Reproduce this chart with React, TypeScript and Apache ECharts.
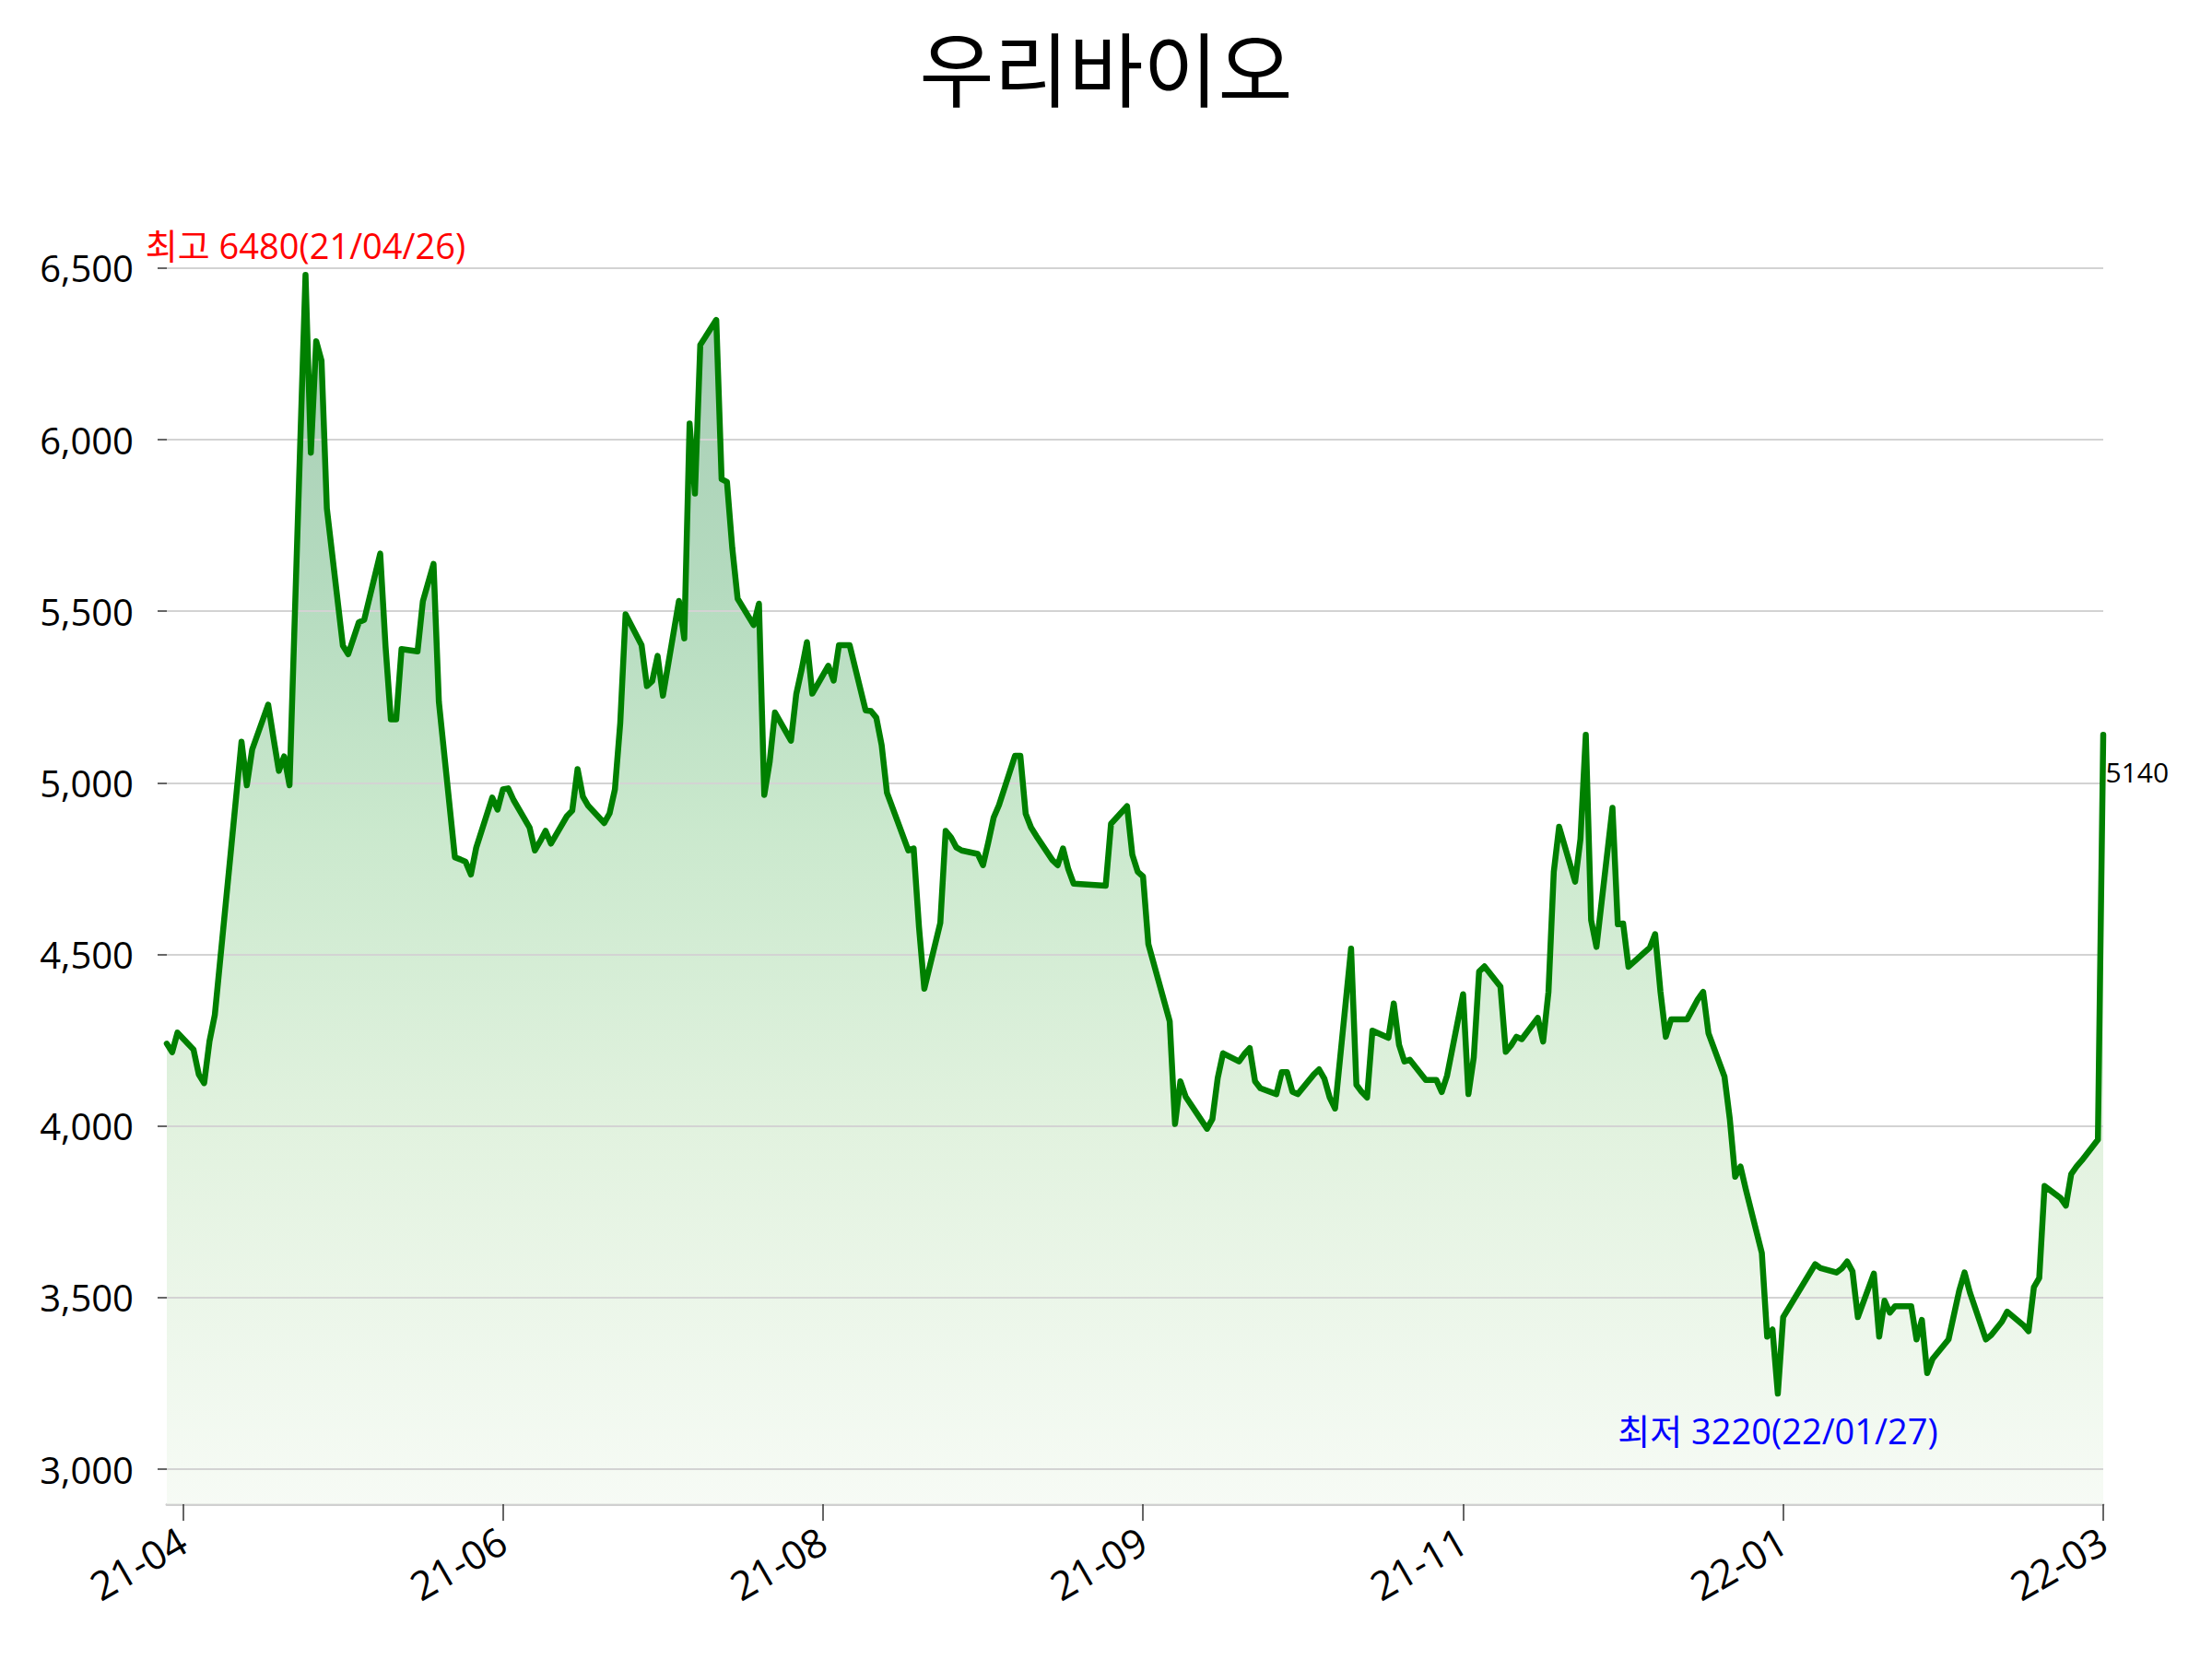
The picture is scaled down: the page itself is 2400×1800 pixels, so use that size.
import React, { useEffect, useRef } from 'react';
import * as echarts from 'echarts';

const TITLE = '우리바이오';

const dates: string[] = [
  '2021-03-31', '2021-04-01', '2021-04-02', '2021-04-05', '2021-04-06', '2021-04-07', '2021-04-08', '2021-04-09',
  '2021-04-12', '2021-04-13', '2021-04-14', '2021-04-15', '2021-04-16', '2021-04-19', '2021-04-20', '2021-04-21',
  '2021-04-22', '2021-04-23', '2021-04-26', '2021-04-27', '2021-04-28', '2021-04-29', '2021-04-30', '2021-05-03',
  '2021-05-04', '2021-05-06', '2021-05-07', '2021-05-10', '2021-05-11', '2021-05-12', '2021-05-13', '2021-05-14',
  '2021-05-17', '2021-05-18', '2021-05-20', '2021-05-21', '2021-05-24', '2021-05-25', '2021-05-26', '2021-05-27',
  '2021-05-28', '2021-05-31', '2021-06-01', '2021-06-02', '2021-06-03', '2021-06-04', '2021-06-07', '2021-06-08',
  '2021-06-09', '2021-06-10', '2021-06-11', '2021-06-14', '2021-06-15', '2021-06-16', '2021-06-17', '2021-06-18',
  '2021-06-21', '2021-06-22', '2021-06-23', '2021-06-24', '2021-06-25', '2021-06-28', '2021-06-29', '2021-06-30',
  '2021-07-01', '2021-07-02', '2021-07-05', '2021-07-06', '2021-07-07', '2021-07-08', '2021-07-09', '2021-07-12',
  '2021-07-13', '2021-07-14', '2021-07-15', '2021-07-16', '2021-07-19', '2021-07-20', '2021-07-21', '2021-07-22',
  '2021-07-23', '2021-07-26', '2021-07-27', '2021-07-28', '2021-07-29', '2021-07-30', '2021-08-02', '2021-08-03',
  '2021-08-04', '2021-08-05', '2021-08-06', '2021-08-09', '2021-08-10', '2021-08-11', '2021-08-12', '2021-08-13',
  '2021-08-17', '2021-08-18', '2021-08-19', '2021-08-20', '2021-08-23', '2021-08-24', '2021-08-25', '2021-08-26',
  '2021-08-27', '2021-08-30', '2021-08-31', '2021-09-01', '2021-09-02', '2021-09-03', '2021-09-06', '2021-09-07',
  '2021-09-08', '2021-09-09', '2021-09-10', '2021-09-13', '2021-09-14', '2021-09-15', '2021-09-16', '2021-09-17',
  '2021-09-23', '2021-09-24', '2021-09-27', '2021-09-28', '2021-09-29', '2021-09-30', '2021-10-01', '2021-10-05',
  '2021-10-06', '2021-10-07', '2021-10-08', '2021-10-12', '2021-10-13', '2021-10-14', '2021-10-15', '2021-10-18',
  '2021-10-19', '2021-10-20', '2021-10-21', '2021-10-22', '2021-10-25', '2021-10-26', '2021-10-27', '2021-10-28',
  '2021-10-29', '2021-11-01', '2021-11-02', '2021-11-03', '2021-11-04', '2021-11-05', '2021-11-08', '2021-11-09',
  '2021-11-10', '2021-11-11', '2021-11-12', '2021-11-15', '2021-11-16', '2021-11-17', '2021-11-18', '2021-11-19',
  '2021-11-22', '2021-11-23', '2021-11-24', '2021-11-25', '2021-11-26', '2021-11-29', '2021-11-30', '2021-12-01',
  '2021-12-02', '2021-12-03', '2021-12-06', '2021-12-07', '2021-12-08', '2021-12-09', '2021-12-10', '2021-12-13',
  '2021-12-14', '2021-12-15', '2021-12-16', '2021-12-17', '2021-12-20', '2021-12-21', '2021-12-22', '2021-12-23',
  '2021-12-24', '2021-12-27', '2021-12-28', '2021-12-29', '2021-12-30', '2022-01-03', '2022-01-04', '2022-01-05',
  '2022-01-06', '2022-01-07', '2022-01-10', '2022-01-11', '2022-01-12', '2022-01-13', '2022-01-14', '2022-01-17',
  '2022-01-18', '2022-01-19', '2022-01-20', '2022-01-21', '2022-01-24', '2022-01-25', '2022-01-26', '2022-01-27',
  '2022-01-28', '2022-02-03', '2022-02-04', '2022-02-07', '2022-02-08', '2022-02-09', '2022-02-10', '2022-02-11',
  '2022-02-14', '2022-02-15', '2022-02-16', '2022-02-17', '2022-02-18', '2022-02-21', '2022-02-22', '2022-02-23',
  '2022-02-24', '2022-02-25', '2022-02-28', '2022-03-02', '2022-03-03', '2022-03-04', '2022-03-07', '2022-03-08',
  '2022-03-10', '2022-03-11', '2022-03-14', '2022-03-15', '2022-03-16', '2022-03-17', '2022-03-18', '2022-03-21',
  '2022-03-22', '2022-03-23', '2022-03-24', '2022-03-25', '2022-03-28', '2022-03-29',
];

const prices: number[] = [
  4240, 4215, 4272, 4223, 4150, 4125, 4247, 4324,
  4800, 4960, 5120, 4993, 5097, 5228, 5130, 5035,
  5077, 4993, 6480, 5962, 6287, 6230, 5800, 5400,
  5375, 5468, 5475, 5668, 5398, 5185, 5185, 5390,
  5383, 5529, 5638, 5236, 4783, 4777, 4770, 4733,
  4811, 4957, 4922, 4981, 4984, 4950, 4870, 4803,
  4830, 4860, 4823, 4903, 4919, 5040, 4960, 4933,
  4883, 4911, 4981, 5174, 5491, 5401, 5282, 5297,
  5370, 5254, 5530, 5421, 6047, 5843, 6276, 6349,
  5885, 5877, 5684, 5537, 5460, 5522, 4965, 5060,
  5205, 5123, 5259, 5330, 5410, 5260, 5341, 5298,
  5401, 5401, 5401, 5211, 5209, 5190, 5110, 4971,
  4803, 4809, 4580, 4400, 4592, 4860, 4841, 4812,
  4803, 4793, 4760, 4827, 4899, 4935, 5079, 5079,
  4910, 4870, 4845, 4775, 4760, 4809, 4748, 4706,
  4700, 4881, 4932, 4790, 4741, 4727, 4530, 4305,
  4006, 4130, 4085, 3992, 4020, 4140, 4212, 4188,
  4210, 4227, 4130, 4110, 4093, 4157, 4157, 4100,
  4093, 4150, 4165, 4138, 4083, 4051, 4517, 4120,
  4099, 4083, 4278, 4257, 4357, 4236, 4188, 4193,
  4134, 4134, 4134, 4099, 4147, 4384, 4093, 4200,
  4450, 4465, 4406, 4216, 4235, 4260, 4253, 4315,
  4246, 4390, 4741, 4872, 4712, 4836, 5140, 4600,
  4522, 4927, 4588, 4590, 4464, 4520, 4559, 4391,
  4260, 4311, 4311, 4340, 4369, 4391, 4270, 4144,
  4020, 3852, 3882, 3815, 3630, 3386, 3407, 3220,
  3443, 3597, 3586, 3573, 3585, 3605, 3576, 3443,
  3570, 3386, 3491, 3456, 3475, 3475, 3378, 3435,
  3280, 3321, 3378, 3520, 3573, 3515, 3378, 3391,
  3430, 3459, 3420, 3402, 3530, 3557, 3825, 3790,
  3768, 3860, 3882, 3900, 3960, 5140,
];

const yTicks: number[] = [3000, 3500, 4000, 4500, 5000, 5500, 6000, 6500];
const xTickDates: string[] = ['2021-04-03', '2021-06-02', '2021-08-01', '2021-09-30', '2021-11-29', '2022-01-28', '2022-03-29'];
const Y_MIN = 2898;
const Y_MAX = 6959;

const DAY_MS = 86400000;
const toDay = (s: string): number => {
  const [y, m, d] = s.split('-').map(Number);
  return Date.UTC(y, m - 1, d) / DAY_MS;
};
const fmtTick = (day: number): string => {
  const dt = new Date(Math.round(day) * DAY_MS);
  return String(dt.getUTCFullYear()).slice(2) + '-' + String(dt.getUTCMonth() + 1).padStart(2, '0');
};
const fmtShort = (s: string): string => s.slice(2).replace(/-/g, '/');

export default function App() {
  const ref = useRef<HTMLDivElement>(null);

  useEffect(() => {
    if (!ref.current) return;
    const chart = echarts.init(ref.current, null, { renderer: 'svg' });
    const pts = dates.map((d, i) => [toDay(d), prices[i]]);
    let maxI = 0;
    let minI = 0;
    prices.forEach((p, i) => {
      if (p > prices[maxI]) maxI = i;
      if (p < prices[minI]) minI = i;
    });
    const lastI = prices.length - 1;
    const xTicks = xTickDates.map(toDay);
    const font = '"Open Sans", "Noto Sans CJK KR", sans-serif';

    chart.setOption({
      animation: false,
      backgroundColor: '#ffffff',
      title: {
        text: TITLE,
        left: 'center',
        top: 21,
        textStyle: { fontFamily: '"Noto Sans CJK KR", sans-serif', fontSize: 88, fontWeight: 'normal', color: '#000' },
      },
      grid: { left: 181, right: 118, top: 120, bottom: 168, containLabel: false },
      xAxis: {
        type: 'value',
        min: pts[0][0],
        max: pts[lastI][0],
        splitLine: { show: false },
        axisLine: { show: true, lineStyle: { color: '#d0d0d0', width: 3 } },
        axisTick: { show: true, customValues: xTicks, length: 18, lineStyle: { color: '#333', width: 1.5 } },
        axisLabel: {
          customValues: xTicks,
          formatter: (v: number) => fmtTick(v),
          rotate: 30,
          margin: 36,
          fontSize: 43,
          color: '#000',
          fontFamily: font,
        },
      },
      yAxis: {
        type: 'value',
        min: Y_MIN,
        max: Y_MAX,
        splitLine: { show: false },
        axisLine: { show: false },
        axisTick: { show: true, customValues: yTicks, length: 10, lineStyle: { color: '#333', width: 1.5 } },
        axisLabel: {
          customValues: yTicks,
          formatter: (v: number) => v.toLocaleString('en-US'),
          margin: 36,
          fontSize: 40,
          color: '#000',
          fontFamily: font,
        },
      },
      series: [
        {
          type: 'line',
          data: pts,
          showSymbol: false,
          silent: true,
          lineStyle: { width: 0 },
          areaStyle: {
            origin: 'start',
            color: new echarts.graphic.LinearGradient(0, 0, 0, 1, [
              { offset: 0, color: 'rgb(128,182,148)' },
              { offset: 0.25, color: 'rgb(148,203,163)' },
              { offset: 0.45, color: 'rgb(180,223,184)' },
              { offset: 0.7, color: 'rgb(214,237,210)' },
              { offset: 1, color: 'rgb(243,249,241)' },
            ]),
          },
          z: 1,
          markLine: {
            silent: true,
            symbol: ['none', 'none'],
            label: { show: false },
            lineStyle: { color: '#d3d3d3', width: 2, type: 'solid' },
            data: yTicks.map((v) => ({ yAxis: v })),
          },
        },
        {
          type: 'line',
          data: pts,
          showSymbol: false,
          silent: true,
          z: 5,
          lineStyle: { color: '#008000', width: 6.5, join: 'round', cap: 'round' },
          markPoint: {
            symbol: 'circle',
            symbolSize: 1,
            itemStyle: { color: 'rgba(0,0,0,0)' },
            data: [
              {
                coord: pts[maxI],
                label: {
                  show: true,
                  formatter: `최고 ${prices[maxI]}(${fmtShort(dates[maxI])})`,
                  position: 'top',
                  distance: 13,
                  color: '#ff0000',
                  fontSize: 38,
                  fontFamily: font,
                },
              },
              {
                coord: pts[minI],
                label: {
                  show: true,
                  formatter: `최저 ${prices[minI]}(${fmtShort(dates[minI])})`,
                  position: 'bottom',
                  distance: 20,
                  color: '#0000ff',
                  fontSize: 38,
                  fontFamily: font,
                },
              },
              {
                coord: pts[lastI],
                label: {
                  show: true,
                  formatter: String(prices[lastI]),
                  position: 'right',
                  distance: 2,
                  offset: [0, 40],
                  color: '#000',
                  fontSize: 30,
                  fontFamily: font,
                },
              },
            ],
          },
        },
      ],
    });
    return () => chart.dispose();
  }, []);

  return <div ref={ref} style={{ position: 'fixed', left: 0, top: 0, width: 2400, height: 1800 }} />;
}
